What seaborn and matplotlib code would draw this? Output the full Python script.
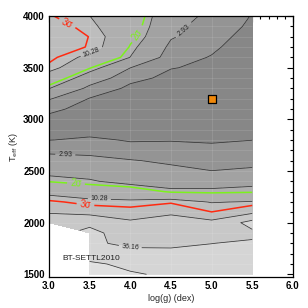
import numpy as np
import matplotlib
matplotlib.use("Agg")
import matplotlib.pyplot as plt
from matplotlib.ticker import MultipleLocator, FormatStrFormatter
import seaborn as sns

sns.set_theme(style="white")
plt.rcParams['font.family'] = ['Liberation Sans', 'DejaVu Sans']

# --- model grid (BT-Settl 2010) ---
logg = [3.0, 3.5, 4.0, 4.5, 5.0, 5.5]
teff = [1500, 1600, 1700, 1800, 1900, 2000, 2100, 2200, 2300, 2400, 2500, 2600, 2700,
        2800, 2900, 3000, 3100, 3200, 3300, 3400, 3500, 3600, 3700, 3800, 3900, 4000]

# reduced chi2 along each logg column, Teff 1500 -> 4000
nan = np.nan
chi2_g30 = [nan, nan, nan, nan, nan, 24.4, 18.7, 13.1, 8.8, 6.2, 4.88, 3.66, 2.53,
            1.54, 1.2, 1.35, 1.74, 3.06, 5.57, 8.0, 11.7, 13.4, 15.0, 15.5, 14.8, 12.8]
chi2_g35 = [95, 75, 45, 39.5, 40.0, 33, 14.7, 11.5, 7.43, 5.8, 4.25, 3.3, 2.56,
            1.7, 1.23, 1.2, 1.3, 1.5, 2.45, 4.09, 6.46, 9.0, 12.2, 12.4, 11.0, 10.3]
chi2_g40 = [72, 58, 42, 32, 29, 21, 14.1, 10.9, 7.8, 4.5, 3.7, 3.05, 1.85,
            1.5, 1.25, 1.15, 1.2, 1.25, 1.3, 1.88, 2.95, 5.45, 6.1, 6.9, 7.5, 7.9]
chi2_g45 = [61.5, 50, 40, 33, 28, 24, 17.7, 11.8, 6.0, 4.3, 3.4, 2.62, 2.0,
            1.5, 1.3, 1.2, 1.15, 1.15, 1.2, 1.3, 1.6, 2.0, 2.5, 3.1, 3.3, 3.5]
chi2_g50 = [55, 46, 40, 36.0, 30, 21.5, 12.6, 10.1, 5.8, 4.77, 2.95, 2.3, 1.8,
            1.45, 1.3, 1.2, 1.1, 1.0, 1.1, 1.25, 1.4, 1.5, 1.75, 1.95, 2.35, 2.66]
chi2_g55 = [50, 45, 41, 38, 33, 42, 16.5, 10.5, 6.0, 5.0, 3.1, 2.6, 2.0,
            1.55, 1.3, 1.2, 1.1, 1.05, 1.0, 0.95, 0.92, 0.9, 0.96, 1.17, 1.31, 1.49]

plain_levels = [1.56, 5.49, 19.27, 67.8]
labelled_levels = [2.93, 10.28, 36.16]
sigma2 = 6.3
sigma3 = 12.5

best_logg = [5.0]
best_teff = [3200]

Z = np.ma.masked_invalid(np.column_stack([chi2_g30, chi2_g35, chi2_g40,
                                          chi2_g45, chi2_g50, chi2_g55]))
X, Y = np.meshgrid(logg, teff)

fig = plt.figure(figsize=(3.08, 3.08), dpi=100)
ax = fig.add_axes([0.159, 0.101, 0.792, 0.847])

fill_levels = [0] + sorted(plain_levels + labelled_levels) + [500]
grays = [str(g) for g in [0.53, 0.58, 0.635, 0.685, 0.74, 0.785, 0.835, 0.88]]
ax.contourf(X, Y, Z, levels=fill_levels, colors=grays)

# faint model grid
ax.hlines(teff, logg[0], logg[-1], colors='white', alpha=0.12, linewidth=0.6)
ax.vlines(logg[1:-1], teff[0], teff[-1], colors='white', alpha=0.12, linewidth=0.6)

ax.contour(X, Y, Z, levels=plain_levels, colors='#333333', linewidths=0.55)
cs = ax.contour(X, Y, Z, levels=labelled_levels, colors='#333333', linewidths=0.55)
cs.clabel(fmt='%.2f', fontsize=5, colors='#202020',
          manual=[(3.2, 2655), (4.65, 3870), (3.53, 3636), (3.62, 2230), (4.0, 1765)])

c2 = ax.contour(X, Y, Z, levels=[sigma2], colors='#7cf21c', linewidths=1.1)
c2.clabel(fmt={sigma2: '2σ'}, fontsize=7, manual=[(4.02, 3862), (3.33, 2345)])
c3 = ax.contour(X, Y, Z, levels=[sigma3], colors='#ff2a10', linewidths=1.1)
c3.clabel(fmt={sigma3: '3σ'}, fontsize=7, manual=[(3.23, 3940), (3.45, 2185)])

sns.scatterplot(x=best_logg, y=best_teff, marker='s', s=34, color='#f0880a',
                edgecolor='black', linewidth=0.9, ax=ax, zorder=5, legend=False)

ax.text(3.17, 1650, 'BT-SETTL2010', fontsize=6, va='center', ha='left', color='#202020')

ax.set_xlim(3.0, 6.0)
ax.set_ylim(1475, 4000)
ax.xaxis.set_major_locator(MultipleLocator(0.5))
ax.xaxis.set_minor_locator(MultipleLocator(0.1))
ax.yaxis.set_major_locator(MultipleLocator(500))
ax.yaxis.set_minor_locator(MultipleLocator(100))
ax.xaxis.set_major_formatter(FormatStrFormatter('%.1f'))
ax.tick_params(which='both', direction='in', top=True, right=True, width=0.8,
               colors='black', labelsize=7, pad=3)
ax.tick_params(which='major', length=4)
ax.tick_params(which='minor', length=2)
for lab in ax.get_xticklabels() + ax.get_yticklabels():
    lab.set_fontweight('bold')
for sp in ax.spines.values():
    sp.set_color('black')
    sp.set_linewidth(0.9)

ax.set_xlabel('log(g) (dex)', fontsize=6.5, labelpad=2)
ax.set_ylabel(r'T$_{\rm eff}$ (K)', fontsize=6.5)
ax.yaxis.set_label_coords(-0.12, 0.5)

fig.savefig('out.png', dpi=100)
